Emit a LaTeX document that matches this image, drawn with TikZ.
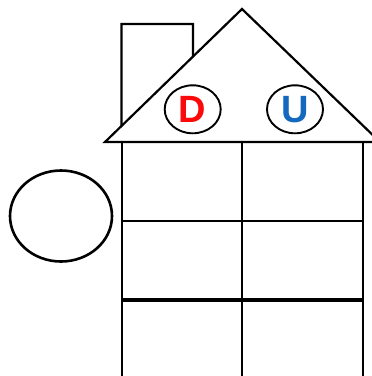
\documentclass[tikz,border=0pt]{standalone}
\usepackage{fontspec}
\setmainfont{Liberation Sans}
\usepackage{tikz}
\usetikzlibrary{shapes.geometric}
\definecolor{dred}{RGB}{250,10,10}
\definecolor{ublue}{RGB}{20,105,190}

\begin{document}
\begin{tikzpicture}[x=1pt,y=-1pt,
wall/.style={draw,line width=2.2pt},
badge/.style={ellipse,draw,line width=1.9pt,minimum width=56pt,minimum height=48pt,inner sep=0pt,font=\fontsize{38}{38}\selectfont\bfseries}]
\useasboundingbox (0,0) rectangle (372,376);
% roof corners
\coordinate (apex) at (242,9);
\coordinate (roofL) at (105,142);
\coordinate (roofR) at (380,142);
% chimney, cut off by the roof
\draw[wall] (intersection of roofL--apex and 121.5,0--121.5,200) -- (121.5,24) -- (193,24)
  -- (intersection of roofL--apex and 193,0--193,200);
\draw[wall] (roofL) -- (apex) -- (roofR) -- cycle;
% the grid of rooms
\draw[wall] (121.7,142) -- (121.7,380);
\draw[wall] (242,142) -- (242,380);
\draw[wall] (362.7,142) -- (362.7,380);
\draw[wall] (121.7,220.7) -- (362.7,220.7);
\draw[draw,line width=4pt] (121.7,299.5) -- (362.7,299.5);
% letters in the roof
\node[badge,text=dred](d) at (192.7,109.3){D};
\node[badge,text=ublue](u) at (295,109.3){U};
% empty circle at the side
\node[ellipse,draw,line width=2.6pt,minimum width=102pt,minimum height=91pt](side) at (61,216){};
\end{tikzpicture}
\end{document}
